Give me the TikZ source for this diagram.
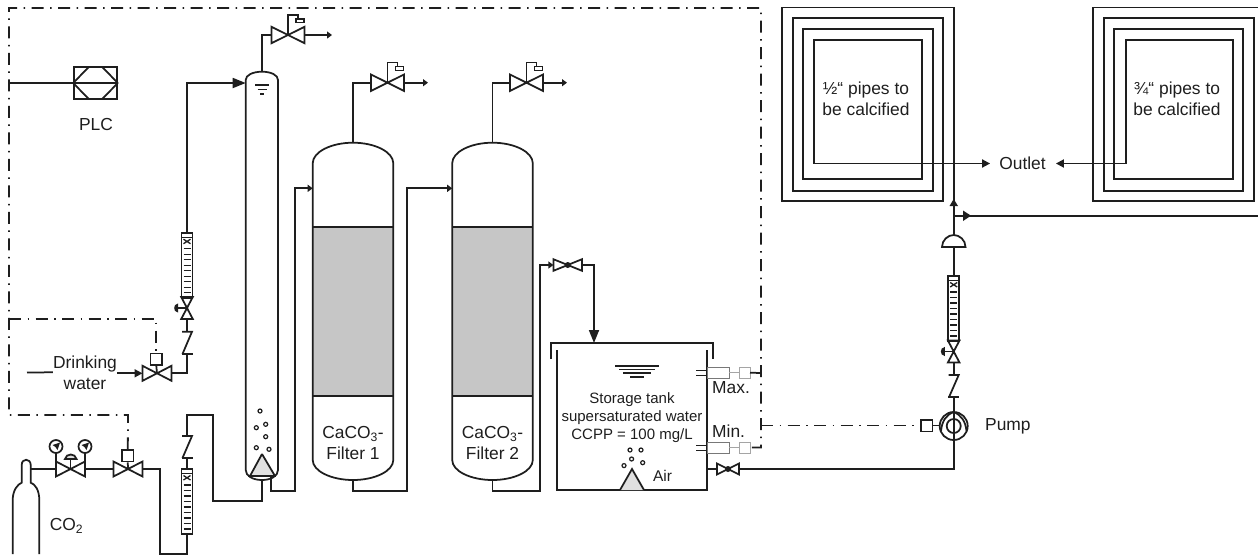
\documentclass[tikz,border=0pt]{standalone}
\usepackage{fontspec}
\setmainfont{Liberation Sans}
\usetikzlibrary{arrows.meta,calc}
\definecolor{ink}{HTML}{1E1E1E}
\definecolor{mediafill}{HTML}{C6C6C6}
\definecolor{conefill}{HTML}{E0E0E0}
\tikzset{
  pipe/.style={draw=ink,line width=1.75pt,line join=miter},
  thinpipe/.style={draw=ink,line width=1.3pt},
  signal/.style={draw=ink,line width=1.8pt,dash pattern=on 12pt off 6.5pt on 1.5pt off 6.5pt},
  bigtip/.style={-{Triangle[length=13pt,width=10pt]}},
  midtip/.style={-{Triangle[length=8pt,width=8pt]}},
  smalltip/.style={-{Triangle[length=5pt,width=7pt]}},
  lbl/.style={inner sep=0pt,text=ink,align=center,font=\fontsize{17.4}{21}\selectfont},
  tanklbl/.style={inner sep=0pt,text=ink,align=center,font=\fontsize{15}{18}\selectfont},
  actbox/.style={draw=ink,line width=1.5pt,fill=white,inner sep=0pt,minimum width=11.5pt,minimum height=11.5pt},
  sensorbox/.style={draw=ink!60,line width=1pt,inner sep=0pt},
  bubble/.style={draw=ink,line width=1.2pt},
}
% horizontal valve: name, x, y, half width, half height
\newcommand\vlvH[5]{%
  \coordinate (#1) at (#2,#3);
  \coordinate (#1-l) at (#2-#4,#3);
  \coordinate (#1-r) at (#2+#4,#3);
  \draw[pipe,fill=white,shift={(#2,#3)}] (-#4,-#5) -- (#4,#5) -- (#4,-#5) -- (-#4,#5) -- cycle;}
% relief stem on a valve: name of valve
\newcommand\vlvStem[1]{%
  \draw[thinpipe,shift={(#1)}] (0,0) -- (0,-20) -- (10,-20) -- (10,-16);
  \draw[thinpipe,shift={(#1)},fill=white] (8,-16) rectangle (16,-12.5);}
% vertical hand valve: name, x, centre y
\newcommand\vlvV[3]{%
  \coordinate (#1-t) at (#2,#3-11);
  \coordinate (#1-b) at (#2,#3+11);
  \draw[pipe,fill=white,shift={(#2,#3)}] (-5.8,-11) -- (5.8,11) -- (-5.8,11) -- (5.8,-11) -- cycle;
  \draw[thinpipe,shift={(#2,#3)}] (0,0) -- (-9.5,0);
  \draw[thinpipe,fill=ink,shift={(#2,#3)}] (-9.5,-3.5) .. controls (-13,-3.5) and (-13,3.5) .. (-9.5,3.5) -- cycle;}
% check valve: name, x, top y, bottom y
\newcommand\chk[4]{%
  \coordinate (#1-t) at (#2,#3);
  \coordinate (#1-b) at (#2,#4);
  \draw[pipe,shift={(#2,0)}] (-5,#3) -- (5,#3) -- (-4.5,#4);
  \draw[pipe,shift={(#2,0)}] (-5.5,#4) -- (5.5,#4);}
% rotameter: name, x, top y
\newcommand\rotam[3]{%
  \coordinate (#1-t) at (#2,#3);
  \coordinate (#1-b) at (#2,#3+65);
  \begin{scope}[shift={(#2,#3)}]
    \draw[pipe] (-5.5,0) rectangle (5.5,65);
    \draw[thinpipe] (-5.5,4.5) -- (5.5,4.5);
    \draw[thinpipe] (-3.5,6.5) -- (3.5,11) (3.5,6.5) -- (-3.5,11);
    \foreach \t in {0,...,8} \draw[thinpipe] (-3.5,16+5.5*\t) -- (3.5,16+5.5*\t);
  \end{scope}}
% pressure gauge: name, x, y
\newcommand\gauge[3]{%
  \coordinate (#1) at (#2,#3);
  \coordinate (#1-b) at (#2,#3+6.5);
  \draw[pipe,shift={(#2,#3)}] (0,0) circle[radius=6.5pt];
  \fill[ink,shift={(#2,#3)}] (4,-4) -- (-3.5,-1.5) -- (-.5,.5) -- (1.5,3.5) -- cycle;}
\begin{document}
\begin{tikzpicture}[x=1pt,y=-1pt]
\useasboundingbox (0,0) rectangle (1258,555);

%% ---------- key points of the pipework
\coordinate (fTL) at (9,8);
\coordinate (fTR) at (761,8);
\coordinate (fBL) at (9,415);
\coordinate (plcin) at (9,83);
\coordinate (sig1) at (9,319);
\coordinate (sigMax) at (761,373);
\coordinate (sigMin) at (761,447.5);
\coordinate (sigPump) at (761,425.5);

%% ---------- filters
\foreach \cx/\nm in {353/1,492.5/2}{
  \begin{scope}[shift={(\cx,0)}]
    \fill[mediafill] (-40.3,227.3) rectangle (40.3,395.7);
    \draw[pipe] (-40.3,227.3) -- (40.3,227.3) (-40.3,395.7) -- (40.3,395.7);
    \draw[pipe] (0,142.7) .. controls (-22,142.7) and (-40.3,152) .. (-40.3,163.3) -- (-40.3,460)
      .. controls (-40.3,471) and (-22,480) .. (0,480)
      .. controls (22,480) and (40.3,471) .. (40.3,460) -- (40.3,163.3)
      .. controls (40.3,152) and (22,142.7) .. (0,142.7) -- cycle;
    \coordinate (filter\nm-t) at (0,142.7);
    \coordinate (filter\nm-b) at (0,480);
    \coordinate (filter\nm-l) at (-40.3,188.3);
  \end{scope}
}
\node[lbl] (f1txt) at (353,443) {CaCO\textsubscript{3}-\\Filter 1};
\node[lbl] (f2txt) at (492.5,443) {CaCO\textsubscript{3}-\\Filter 2};

%% ---------- reactor column
\fill[conefill] (262,454) -- (250,476) -- (275,476) -- cycle;
\draw[pipe] (262,454) -- (250,476) (262,454) -- (275,476);
\draw[pipe] (262,71.7) .. controls (253,71.7) and (245.7,75) .. (245.7,80) -- (245.7,470)
   .. controls (245.7,476) and (253,480) .. (262,480)
   .. controls (271,480) and (278,476) .. (278,470) -- (278,80)
   .. controls (278,75) and (271,71.7) .. (262,71.7) -- cycle;
\draw[thinpipe] (248,476) -- (276,476);
\coordinate (col-t) at (262,71.7);
\coordinate (col-b) at (262,480);
\coordinate (col-l) at (245.7,83);
\coordinate (col-o) at (271,477);
\draw[thinpipe] (255,85) -- (269,85) (257.5,89.5) -- (266.5,89.5) (260,94) -- (264,94);
\foreach \bx/\by in {260/411,256.3/427.7,265.7/424.3,265.7/436.7,256.3/447.7,269/449.3}
  \draw[bubble] (\bx,\by) circle[radius=2pt];

%% ---------- vent valves
\vlvH{v1}{288}{35}{16.5}{8.2}
\vlvH{v2}{387.5}{82.7}{16.5}{8.2}
\vlvH{v3}{526.5}{82.7}{16.5}{8.2}
\vlvStem{v1}\vlvStem{v2}\vlvStem{v3}
\coordinate (vent1) at (332,35);
\coordinate (vent2) at (428,82.7);
\coordinate (vent3) at (567,82.7);
\draw[pipe] (col-t) |- (v1-l);
\draw[pipe] (filter1-t) |- (v2-l);
\draw[pipe] (filter2-t) |- (v3-l);
\draw[pipe,smalltip] (v1-r) -- (vent1);
\draw[pipe,smalltip] (v2-r) -- (vent2);
\draw[pipe,smalltip] (v3-r) -- (vent3);

%% ---------- PLC
\node[draw=ink,line width=1.75pt,inner sep=0pt,minimum width=43pt,minimum height=32.6pt] (plc) at (95.5,83) {};
\draw[pipe] (plcin) -- (plc.east);
\draw[pipe] (plc.west) -- ++(16,-16.3) (plc.west) -- ++(16,16.3)
            (plc.east) -- ++(-16,-16.3) (plc.east) -- ++(-16,16.3);
\node[lbl] (plctxt) at (96,125) {PLC};

%% ---------- drinking water line
\coordinate (dwin) at (27,372.5);
\node[lbl] (dw) at (85,372.3) {Drinking\\water};
\vlvH{v4}{157}{373.3}{14.5}{7.5}
\node[actbox] (a4) at (156.3,359.2) {};
\draw[pipe] (v4) -- (a4.south);
\draw[pipe] (dwin) -- (dw.west);
\draw[pipe,midtip] (dw.east |- v4-l) -- (v4-l);
\chk{c1}{187}{331.7}{354}
\vlvV{h1}{187}{308}
\rotam{r1}{187}{232.7}
\draw[pipe] (v4-r) -| (c1-b);
\draw[pipe] (c1-t) -- (h1-b);
\draw[pipe,bigtip] (r1-t) |- (col-l);

%% ---------- CO2 supply
\draw[pipe,fill=white] (12.7,554) -- (12.7,500) .. controls (12.7,490) and (18,484) .. (21.7,482.7)
  -- (21.7,465) .. controls (21.7,458) and (30.7,458) .. (30.7,465) -- (30.7,482.7)
  .. controls (35,484) and (39.3,490) .. (39.3,500) -- (39.3,554);
\coordinate (cyl) at (30.7,469);
\node[lbl] (co2) at (66.5,526) {CO\textsubscript{2}};
\vlvH{v5}{70.5}{469}{14.5}{7.5}
\vlvH{v6}{128}{469}{14.5}{7.5}
\node[actbox] (a6) at (127.8,455.8) {};
\draw[pipe] (v6) -- (a6.south);
\gauge{g1}{56}{446.5}
\gauge{g2}{85}{446.5}
\draw[pipe] (g1-b) -- (v5-l |- 0,461.5);
\draw[pipe] (g2-b) -- (v5-r |- 0,461.5);
\draw[pipe] (v5) -- (70.5,459);
\draw[pipe,fill=ink!15] (65,459) .. controls (66,453) and (75.5,453) .. (76.5,459) -- cycle;
\draw[pipe] (cyl) -- (v5-l);
\draw[pipe] (v5-r) -- (v6-l);
\rotam{r2}{187}{469}
\chk{c2}{187}{436}{458}
\draw[pipe] (v6-r) -- (160,469) -- (160,554) -- (187,554) -- (r2-b);
\draw[pipe] (c2-b) -- (r2-t);
\draw[pipe] (c2-t) -- (187,415) -- (213.3,415) -- (213.3,501) -| (col-b);

%% ---------- column and filter links
\draw[pipe,smalltip] (col-o) -- (271,490.7) -- (295,490.7) |- (filter1-l);
\draw[pipe,smalltip] (filter1-b) -- (353,490.7) -- (406.7,490.7) |- (filter2-l);

%% ---------- to the storage tank
\vlvH{v7}{567.7}{265}{14.3}{5.8}
\fill[ink] (v7) circle[radius=3pt];
\coordinate (tank-in) at (594,343);
\draw[pipe,smalltip] (filter2-b) -- (492.5,490.7) -- (540,490.7) |- (v7-l);
\draw[pipe,bigtip] (v7-r) -| (tank-in);

%% ---------- storage tank
\draw[pipe] (551,359) -- (551,343) -- (713,343) -- (713,359);
\draw[pipe] (557,350) -- (557,490) -- (707,490) -- (707,350);
\draw[thinpipe] (615,366) -- (659,366) (619,369.5) -- (655,369.5) (623,373) -- (651,373) (630,377) -- (644,377);
\node[tanklbl] (tanktxt) at (632,417.7) {Storage tank\\supersaturated water\\CCPP = 100 mg/L};
\fill[conefill] (632,469) -- (620,490) -- (644,490) -- cycle;
\draw[pipe] (620,490) -- (632,469) -- (644,490);
\foreach \bx/\by in {630/450,641/450,631.6/459,624/465.6,642.7/462.7}
  \draw[bubble] (\bx,\by) circle[radius=2pt];
\node[tanklbl,font=\fontsize{15.5}{18}\selectfont] (airtxt) at (662.5,476) {Air};

%% ---------- level sensors
\foreach \sy/\sn in {372.7/Max,447.5/Min}{
  \draw[line width=1pt,draw=ink] (696,\sy-2.5) -- (707,\sy-2.5) (696,\sy+2.5) -- (707,\sy+2.5);
  \draw[sensorbox] (707,\sy-5.5) rectangle (729,\sy+5.5);
  \draw[sensorbox,draw=ink!40] (729,\sy) -- (739,\sy);
  \draw[sensorbox,draw=ink!40] (739,\sy-5.5) rectangle (750,\sy+5.5);
}
\node[lbl,anchor=west] (maxtxt) at (712,388) {Max.};
\node[lbl,anchor=west] (mintxt) at (712,431) {Min.};
\coordinate (sMax) at (750,372.7);
\coordinate (sMin) at (750,447.5);

%% ---------- signal lines
\draw[signal] (a6.north) -- (128,415) -- (fBL) -- (fTL) -- (fTR) -- (sigMin) -- (sMin);
\draw[signal] (sig1) -- (156.3,319) -- (a4.north);
\draw[pipe] (sigMax) -- (sMax);
\node[actbox] (a7) at (926.5,425.5) {};
\draw[signal] (sigPump) -- (a7.west);

%% ---------- pump line
\coordinate (pump) at (953.7,426);
\vlvH{v8}{728}{469}{11}{5.5}
\fill[ink] (v8) circle[radius=3pt];
\coordinate (tank-out) at (707,469);
\draw[pipe] (tank-out) -- (v8-l);
\draw[pipe] (v8-r) -| (pump);
\draw[pipe] (pump) circle[radius=14pt];
\draw[pipe] (pump) circle[radius=7pt];
\draw[pipe] (953.7,412) .. controls (946,415) and (942,421) .. (941,431);
\draw[pipe] (953.7,412) .. controls (961,415) and (965.5,421) .. (966.5,431);
\draw[pipe] (a7.east) -- (939.7,425.5);
\node[lbl,anchor=west] (pumptxt) at (985,426) {Pump};
\chk{c3}{953.7}{375}{396.7}
\vlvV{h3}{953.7}{351.5}
\rotam{r3}{953.7}{276}
\draw[pipe] (pump) -- (c3-b);
\draw[pipe] (c3-t) -- (h3-b);
\coordinate (dome-t) at (953.7,235);
\coordinate (dome-b) at (953.7,247);
\draw[pipe] (942,247) .. controls (942,240) and (948,235) .. (953.7,235)
   .. controls (959.5,235) and (965.5,240) .. (965.5,247) -- cycle;
\draw[pipe] (r3-t) -- (dome-b);
\coordinate (split) at (953.7,215.7);
\coordinate (exit) at (1258,215.7);
\draw[pipe] (dome-t) -- (split);
\draw[pipe] (split) -- (exit);
\fill[ink] (963,210.5) -- (971,215.7) -- (963,221) -- cycle;
\fill[ink] (949.5,206) -- (953.7,199) -- (958,206) -- cycle;

%% ---------- coils
\node[lbl] (outlet) at (1022.5,163.5) {Outlet};
\draw[pipe,midtip] (split) -- (953.7,7.5) -- (782,7.5) -- (782,201) -- (943,201) -- (943,18.3) -- (792.7,18.3)
   -- (792.7,190.7) -- (932.7,190.7) -- (932.7,29) -- (803,29) -- (803,179.3) -- (922,179.3)
   -- (922,40) -- (814,40) -- (814,163.5) -- ($(outlet.west)+(-9,0)$);
\draw[pipe,midtip] (1258,7.5) -- (1093,7.5) -- (1093,201) -- (1254,201) -- (1254,18.3) -- (1103.7,18.3)
   -- (1103.7,190.7) -- (1243.3,190.7) -- (1243.3,29) -- (1114,29) -- (1114,179.3) -- (1232.7,179.3)
   -- (1232.7,40) -- (1125.7,40) -- (1125.7,163.5) -- ($(outlet.east)+(10,0)$);
\node[lbl] (p1) at (866,98.5) {½“ pipes to\\be calcified};
\node[lbl] (p2) at (1177,98.5) {¾“ pipes to\\be calcified};
\end{tikzpicture}
\end{document}
